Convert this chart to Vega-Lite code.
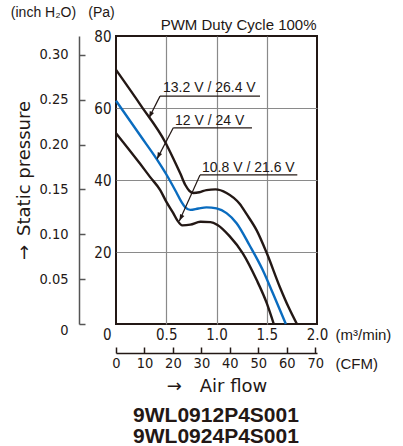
{
  "$schema": "https://vega.github.io/schema/vega-lite/v6.json",
  "width": 201,
  "height": 288,
  "autosize": {"type": "none"},
  "padding": {"left": 116, "top": 36, "right": 86, "bottom": 122},
  "background": "white",
  "view": {"stroke": "#231815", "strokeWidth": 2},
  "config": {"font": "Liberation Sans"},
  "datasets": {
    "curves": [
      {"series": "13.2 V / 26.4 V", "q": 0, "p": 70.6},
      {"series": "13.2 V / 26.4 V", "q": 0.25, "p": 60.6},
      {"series": "13.2 V / 26.4 V", "q": 0.49, "p": 50.5},
      {"series": "13.2 V / 26.4 V", "q": 0.57, "p": 46},
      {"series": "13.2 V / 26.4 V", "q": 0.64, "p": 41.8},
      {"series": "13.2 V / 26.4 V", "q": 0.69, "p": 38.6},
      {"series": "13.2 V / 26.4 V", "q": 0.73, "p": 37},
      {"series": "13.2 V / 26.4 V", "q": 0.77, "p": 36.4},
      {"series": "13.2 V / 26.4 V", "q": 0.83, "p": 36.6},
      {"series": "13.2 V / 26.4 V", "q": 0.9, "p": 37.2},
      {"series": "13.2 V / 26.4 V", "q": 0.99, "p": 37.4},
      {"series": "13.2 V / 26.4 V", "q": 1.1, "p": 36.4},
      {"series": "13.2 V / 26.4 V", "q": 1.23, "p": 33.4},
      {"series": "13.2 V / 26.4 V", "q": 1.3, "p": 30.5},
      {"series": "13.2 V / 26.4 V", "q": 1.4, "p": 26},
      {"series": "13.2 V / 26.4 V", "q": 1.5, "p": 19.7},
      {"series": "13.2 V / 26.4 V", "q": 1.63, "p": 10.3},
      {"series": "13.2 V / 26.4 V", "q": 1.72, "p": 4.5},
      {"series": "13.2 V / 26.4 V", "q": 1.8, "p": 0},
      {"series": "12 V / 24 V", "q": 0, "p": 62},
      {"series": "12 V / 24 V", "q": 0.25, "p": 52},
      {"series": "12 V / 24 V", "q": 0.41, "p": 45.6},
      {"series": "12 V / 24 V", "q": 0.5, "p": 41.6},
      {"series": "12 V / 24 V", "q": 0.6, "p": 36.6},
      {"series": "12 V / 24 V", "q": 0.65, "p": 34},
      {"series": "12 V / 24 V", "q": 0.69, "p": 32.4},
      {"series": "12 V / 24 V", "q": 0.74, "p": 31.7},
      {"series": "12 V / 24 V", "q": 0.82, "p": 32.1},
      {"series": "12 V / 24 V", "q": 0.9, "p": 32.4},
      {"series": "12 V / 24 V", "q": 1.0, "p": 32.1},
      {"series": "12 V / 24 V", "q": 1.1, "p": 30.8},
      {"series": "12 V / 24 V", "q": 1.2, "p": 28},
      {"series": "12 V / 24 V", "q": 1.33, "p": 21.8},
      {"series": "12 V / 24 V", "q": 1.46, "p": 15},
      {"series": "12 V / 24 V", "q": 1.56, "p": 8.6},
      {"series": "12 V / 24 V", "q": 1.69, "p": 0},
      {"series": "10.8 V / 21.6 V", "q": 0, "p": 53},
      {"series": "10.8 V / 21.6 V", "q": 0.24, "p": 44.5},
      {"series": "10.8 V / 21.6 V", "q": 0.34, "p": 40.8},
      {"series": "10.8 V / 21.6 V", "q": 0.44, "p": 37.2},
      {"series": "10.8 V / 21.6 V", "q": 0.5, "p": 34},
      {"series": "10.8 V / 21.6 V", "q": 0.57, "p": 30.8},
      {"series": "10.8 V / 21.6 V", "q": 0.61, "p": 28.8},
      {"series": "10.8 V / 21.6 V", "q": 0.66, "p": 27.4},
      {"series": "10.8 V / 21.6 V", "q": 0.74, "p": 27.6},
      {"series": "10.8 V / 21.6 V", "q": 0.84, "p": 28.4},
      {"series": "10.8 V / 21.6 V", "q": 0.94, "p": 28.3},
      {"series": "10.8 V / 21.6 V", "q": 1.01, "p": 27.5},
      {"series": "10.8 V / 21.6 V", "q": 1.13, "p": 24.4},
      {"series": "10.8 V / 21.6 V", "q": 1.26, "p": 19.7},
      {"series": "10.8 V / 21.6 V", "q": 1.4, "p": 12.2},
      {"series": "10.8 V / 21.6 V", "q": 1.5, "p": 5.8},
      {"series": "10.8 V / 21.6 V", "q": 1.57, "p": 0}
    ],
    "labels": [
      {"label": "13.2 V / 26.4 V", "tx": 0.468, "ty": 64.4, "ux1": 0.438, "ux2": 1.433, "uy": 63.3, "tipx": 0.328, "tipy": 57.2},
      {"label": "12 V / 24 V", "tx": 0.587, "ty": 55.3, "ux1": 0.57, "ux2": 1.353, "uy": 54.5, "tipx": 0.408, "tipy": 45.8},
      {"label": "10.8 V / 21.6 V", "tx": 0.856, "ty": 42.1, "ux1": 0.836, "ux2": 1.804, "uy": 41.4, "tipx": 0.63, "tipy": 28.6}
    ]
  },
  "layer": [
    {
      "data": {"name": "curves"},
      "mark": {"type": "line", "interpolate": "monotone", "strokeWidth": 2.4},
      "encoding": {
        "x": {
          "field": "q", "type": "quantitative",
          "scale": {"domain": [0, 2], "nice": false, "zero": true},
          "axis": {
            "orient": "bottom",
            "values": [0, 0.5, 1, 1.5, 2],
            "labelExpr": "datum.value == 0 ? '0' : format(datum.value, '.1f')",
            "labelFont": "Liberation Sans Narrow, DejaVu Sans Condensed, Liberation Sans, sans-serif",
            "labelFontSize": 15, "labelColor": "#231815",
            "labelAlign": {"condition": {"test": "datum.value == 0", "value": "right"}, "value": "center"},
            "labelOffset": {"condition": {"test": "datum.value == 0", "value": -5}, "value": 0},
            "labelPadding": 3, "labelFlush": false, "labelOverlap": false,
            "ticks": false, "domain": false,
            "grid": true, "gridColor": "#8a8a8a", "gridWidth": 1.2,
            "gridOpacity": {"condition": {"test": "datum.value == 0 || datum.value == 2", "value": 0}, "value": 1},
            "title": "(m³/min)", "titleX": 219, "titleY": 10, "titleAlign": "left", "titleBaseline": "middle", "titleAngle": 0,
            "titleFont": "Liberation Sans", "titleFontSize": 15, "titleFontWeight": "normal", "titleColor": "#231815"
          }
        },
        "y": {
          "field": "p", "type": "quantitative",
          "scale": {"domain": [0, 80], "nice": false},
          "axis": {
            "orient": "left",
            "values": [20, 40, 60, 80],
            "labelFont": "Liberation Sans Narrow, DejaVu Sans Condensed, Liberation Sans, sans-serif",
            "labelFontSize": 15, "labelColor": "#231815", "labelPadding": 5,
            "ticks": false, "domain": false,
            "grid": true, "gridColor": "#8a8a8a", "gridWidth": 1.2,
            "gridOpacity": {"condition": {"test": "datum.value == 80", "value": 0}, "value": 1},
            "title": "(Pa)", "titleX": -15, "titleY": -24, "titleAlign": "center", "titleBaseline": "middle", "titleAngle": 0,
            "titleFont": "Liberation Sans", "titleFontSize": 14, "titleFontWeight": "normal", "titleColor": "#231815"
          }
        },
        "color": {
          "field": "series", "type": "nominal",
          "scale": {"domain": ["13.2 V / 26.4 V", "12 V / 24 V", "10.8 V / 21.6 V"], "range": ["#231815", "#0a6cbf", "#231815"]},
          "legend": null
        }
      }
    },
    {
      "data": {"name": "labels"},
      "mark": {"type": "text", "align": "left", "baseline": "alphabetic", "fontSize": 14, "font": "Liberation Sans", "color": "#231815"},
      "encoding": {
        "x": {
          "field": "tx", "type": "quantitative",
          "scale": {"domain": [0, 2], "nice": false},
          "axis": {
            "orient": "bottom", "offset": 29,
            "values": [0, 0.28317, 0.56634, 0.84951, 1.13268, 1.41584, 1.69901, 1.98218],
            "labelExpr": "format(round(datum.value * 35.3147), 'd')",
            "labelFont": "Liberation Sans Narrow, DejaVu Sans Condensed, Liberation Sans, sans-serif",
            "labelFontSize": 14.5, "labelColor": "#231815", "labelPadding": 9, "labelFlush": false, "labelOverlap": false,
            "domain": true, "domainColor": "#231815", "domainWidth": 1.5,
            "ticks": true, "tickSize": -6, "tickColor": "#231815", "tickWidth": 1.5,
            "grid": false,
            "title": "(CFM)", "titleX": 219, "titleY": 10, "titleAlign": "left", "titleBaseline": "middle", "titleAngle": 0,
            "titleFont": "Liberation Sans", "titleFontSize": 15, "titleFontWeight": "normal", "titleColor": "#231815"
          }
        },
        "y": {
          "field": "ty", "type": "quantitative",
          "scale": {"domain": [0, 80], "nice": false},
          "axis": {
            "orient": "left", "offset": 37,
            "values": [0, 12.4545, 24.909, 37.3635, 49.818, 62.2725, 74.727],
            "labelExpr": "datum.value == 0 ? '0' : format(datum.value / 249.089, '.2f')",
            "labelFont": "Liberation Sans Narrow, DejaVu Sans Condensed, Liberation Sans, sans-serif",
            "labelFontSize": 14.5, "labelColor": "#231815", "labelPadding": 17,
            "labelOffset": {"condition": {"test": "datum.value == 0", "value": 6}, "value": 0},
            "labelOverlap": false, "labelFlush": false,
            "domain": true, "domainColor": "#555555", "domainWidth": 1.5,
            "ticks": true, "tickSize": -6, "tickColor": "#555555", "tickWidth": 1.5,
            "grid": false,
            "title": "(inch H₂O)", "titleX": -36, "titleY": -24, "titleAlign": "center", "titleBaseline": "middle", "titleAngle": 0,
            "titleFont": "Liberation Sans", "titleFontSize": 14, "titleFontWeight": "normal", "titleColor": "#231815"
          }
        },
        "text": {"field": "label"}
      }
    },
    {
      "data": {"name": "labels"},
      "mark": {"type": "rule", "strokeWidth": 1.2, "color": "#231815"},
      "encoding": {
        "x": {
          "field": "ux1", "type": "quantitative",
          "scale": {"domain": [0, 2], "nice": false},
          "axis": {
            "orient": "bottom", "domain": false, "ticks": false, "labels": false, "grid": false,
            "title": "→\u2002\u2002Air flow", "titleX": 100.5, "titleY": 62, "titleAlign": "center", "titleBaseline": "middle", "titleAngle": 0,
            "titleFont": "DejaVu Sans", "titleFontSize": 18, "titleFontWeight": "normal", "titleColor": "#231815"
          }
        },
        "x2": {"field": "ux2"},
        "y": {
          "field": "uy", "type": "quantitative",
          "scale": {"domain": [0, 80], "nice": false},
          "axis": {
            "orient": "left", "domain": false, "ticks": false, "labels": false, "grid": false,
            "title": "→\u2002Static pressure", "titleX": -92, "titleY": 144, "titleAlign": "center", "titleBaseline": "middle", "titleAngle": -90,
            "titleFont": "DejaVu Sans", "titleFontSize": 18, "titleFontWeight": "normal", "titleColor": "#231815"
          }
        }
      }
    },
    {
      "data": {"name": "labels"},
      "mark": {"type": "rule", "strokeWidth": 1.2, "color": "#231815"},
      "encoding": {
        "x": {
          "field": "ux1", "type": "quantitative",
          "scale": {"domain": [0, 2], "nice": false},
          "axis": {
            "orient": "top", "domain": false, "ticks": false, "labels": false, "grid": false,
            "title": "PWM Duty Cycle 100%", "titleX": 200, "titleY": -12, "titleAlign": "right", "titleBaseline": "middle", "titleAngle": 0,
            "titleFont": "Liberation Sans", "titleFontSize": 15, "titleFontWeight": "normal", "titleColor": "#231815"
          }
        },
        "y": {"field": "uy", "type": "quantitative", "scale": {"domain": [0, 80], "nice": false}, "axis": null},
        "x2": {"field": "tipx"},
        "y2": {"field": "tipy"}
      }
    },
    {
      "data": {"name": "labels"},
      "mark": {"type": "point", "shape": "M0,0L0.35,1L-0.35,1Z", "filled": true, "size": 180, "angle": 206, "color": "#231815", "opacity": 1},
      "encoding": {
        "x": {
          "field": "tipx", "type": "quantitative",
          "scale": {"domain": [0, 2], "nice": false},
          "axis": {
            "orient": "bottom", "domain": false, "ticks": false, "labels": false, "grid": false,
            "title": ["9WL0912P4S001", "9WL0924P4S001"], "titleX": 99.5, "titleY": 80, "titleAlign": "center", "titleBaseline": "top", "titleAngle": 0,
            "titleFont": "Liberation Sans", "titleFontSize": 21, "titleFontWeight": "bold", "titleLineHeight": 21, "titleColor": "#231815"
          }
        },
        "y": {"field": "tipy", "type": "quantitative", "scale": {"domain": [0, 80], "nice": false}, "axis": null}
      }
    }
  ],
  "resolve": {"axis": {"x": "independent", "y": "independent"}}
}
